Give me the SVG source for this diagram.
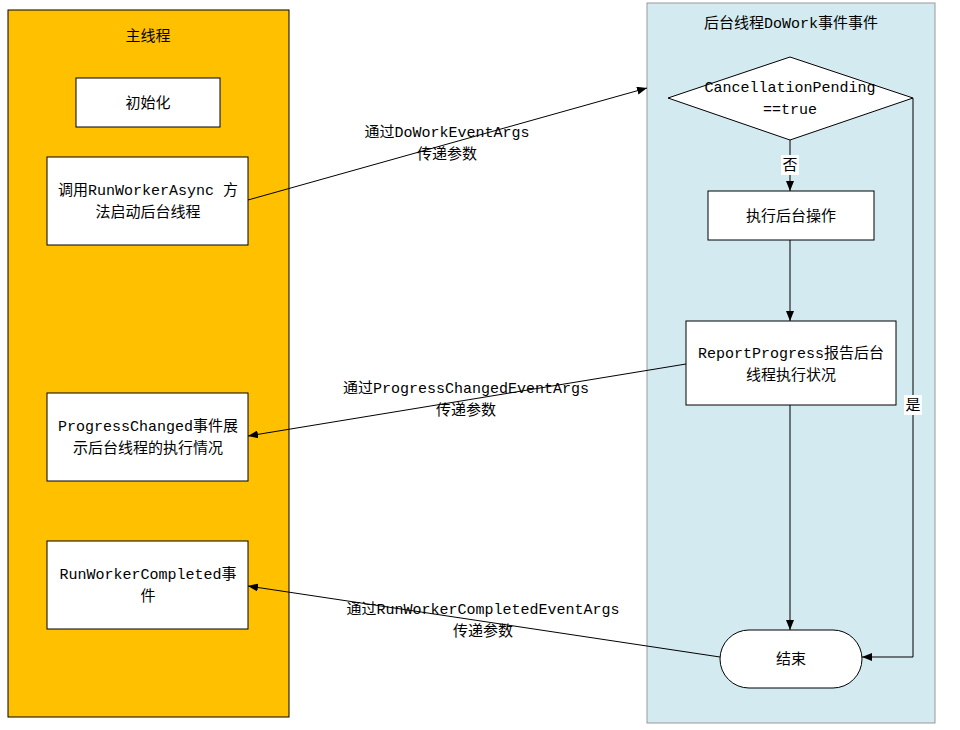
<svg xmlns="http://www.w3.org/2000/svg" width="960" height="730" viewBox="0 0 960 730">
<style>
text{font-family:"Liberation Mono","Noto Sans CJK SC",monospace;font-size:15px;fill:#000;text-anchor:middle}
.box{fill:#fff;stroke:#000;stroke-width:1}
.c{fill:none;stroke:#000;stroke-width:1}
.lbl{fill:#fff}
</style>
<defs><marker id="a" markerWidth="10" markerHeight="8" refX="10" refY="4" orient="auto" markerUnits="userSpaceOnUse"><path d="M0,0L10,4L0,8z" fill="#000"/></marker></defs>
<rect x="8" y="10" width="281" height="707" fill="#FFC000" stroke="#000"/>
<text x="148" y="41">主线程</text>
<rect x="647" y="3" width="288" height="720" fill="#D3EAF0" stroke="#999"/>
<text x="791" y="28">后台线程DoWork事件事件</text>
<g id="init"><rect class="box" x="76" y="78" width="144" height="49"/><text x="148" y="108">初始化</text></g>
<g id="run"><rect class="box" x="47" y="157" width="201" height="88"/><text x="148" y="195">调用RunWorkerAsync 方</text><text x="148" y="217">法启动后台线程</text></g>
<g id="prog"><rect class="box" x="47" y="393" width="201" height="88"/><text x="148" y="431">ProgressChanged事件展</text><text x="148" y="453">示后台线程的执行情况</text></g>
<g id="comp"><rect class="box" x="47" y="541" width="201" height="88"/><text x="148" y="579">RunWorkerCompleted事</text><text x="148" y="601">件</text></g>
<g id="dia"><polygon class="box" points="668,98 790,57 913,98 790,140"/><text x="790" y="92">CancellationPending</text><text x="790" y="114">==true</text></g>
<g id="exec"><rect class="box" x="708" y="191" width="166" height="49"/><text x="791" y="221">执行后台操作</text></g>
<g id="rep"><rect class="box" x="686" y="321" width="210" height="84"/><text x="791" y="358">ReportProgress报告后台</text><text x="791" y="380">线程执行状况</text></g>
<g id="end"><rect class="box" x="720" y="630" width="142" height="58" rx="29"/><text x="791" y="664">结束</text></g>
<g id="connectors">
<path class="c" d="M248,200L647,88" marker-end="url(#a)"/>
<path class="c" d="M686,364L248,436" marker-end="url(#a)"/>
<path class="c" d="M720,657L248,586" marker-end="url(#a)"/>
<path class="c" d="M790,140V191" marker-end="url(#a)"/>
<path class="c" d="M790,240V321" marker-end="url(#a)"/>
<path class="c" d="M790,405V630" marker-end="url(#a)"/>
<path class="c" d="M913,98V657H862" marker-end="url(#a)"/>
<rect class="lbl" x="781" y="155" width="18" height="20"/><text x="790" y="170">否</text>
<rect class="lbl" x="904" y="395" width="18" height="20"/><text x="913" y="410">是</text>
<text x="447" y="137">通过DoWorkEventArgs</text><text x="447" y="159">传递参数</text>
<text x="466" y="393">通过ProgressChangedEventArgs</text><text x="466" y="415">传递参数</text>
<text x="483" y="614">通过RunWorkerCompletedEventArgs</text><text x="483" y="636">传递参数</text>
</g>
</svg>
